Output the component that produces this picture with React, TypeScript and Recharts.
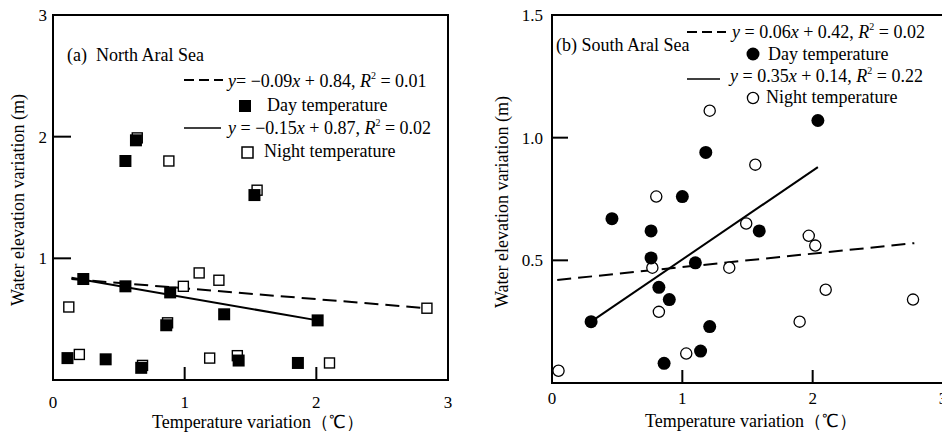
import React from "react";
import { ScatterChart, Scatter, XAxis, YAxis, ReferenceArea } from "recharts";

const FONT = '"Liberation Serif", "Times New Roman", serif';

// ── data ──────────────────────────────────────────────────────────────────

// (a) North Aral Sea: [temperature variation, water elevation variation]
const northDay: [number, number][] = [
    [0.11, 0.18], [0.23, 0.83], [0.4, 0.17], [0.55, 1.8], [0.55, 0.77], [0.63, 1.97], [0.67, 0.1],
    [0.86, 0.45], [0.89, 0.72], [1.3, 0.54], [1.41, 0.16], [1.53, 1.52], [1.86, 0.14], [2.01, 0.49],
];
const northNight: [number, number][] = [
    [0.12, 0.6], [0.2, 0.21], [0.64, 1.99], [0.68, 0.12], [0.87, 0.47], [0.88, 1.8], [0.99, 0.77],
    [1.11, 0.88], [1.19, 0.18], [1.26, 0.82], [1.4, 0.2], [1.55, 1.56], [2.1, 0.14], [2.84, 0.59],
];
const northDashed: [number, number][] = [[0.14, 0.83], [2.84, 0.59]];
const northSolid: [number, number][] = [[0.14, 0.84], [2.01, 0.49]];

// (b) South Aral Sea
const southDay: [number, number][] = [
    [0.3, 0.25], [0.46, 0.67], [0.76, 0.62], [0.76, 0.51], [0.82, 0.39], [0.86, 0.08], [0.9, 0.34],
    [1.0, 0.76], [1.1, 0.49], [1.14, 0.13], [1.18, 0.94], [1.21, 0.23], [1.59, 0.62], [2.04, 1.07],
];
const southNight: [number, number][] = [
    [0.05, 0.05], [0.77, 0.47], [0.8, 0.76], [0.82, 0.29], [1.03, 0.12], [1.21, 1.11], [1.36, 0.47],
    [1.49, 0.65], [1.56, 0.89], [1.9, 0.25], [1.97, 0.6], [2.02, 0.56], [2.1, 0.38], [2.77, 0.34],
];
const southDashed: [number, number][] = [[0.04, 0.42], [2.78, 0.57]];
const southSolid: [number, number][] = [[0.3, 0.25], [2.04, 0.88]];

const xTicks = [0, 1, 2, 3];
const northYTicks = [1, 2, 3];
const southYTicks = [0.5, 1, 1.5];

const pts = (a: [number, number][]) => a.map(([x, y]) => ({ x, y }));

// ── marker shapes ─────────────────────────────────────────────────────────

const FilledSquare = ({ cx, cy }: any) => <rect x={cx - 6} y={cy - 6} width={12} height={12} fill="#000" />;
const HollowSquare = ({ cx, cy }: any) => (
    <rect x={cx - 5} y={cy - 5} width={10} height={10} fill="#fff" stroke="#000" strokeWidth={1.4} />
);
const FilledCircle = ({ cx, cy }: any) => <circle cx={cx} cy={cy} r={6.5} fill="#000" />;
const HollowCircle = ({ cx, cy }: any) => <circle cx={cx} cy={cy} r={5.6} fill="#fff" stroke="#000" strokeWidth={1.3} />;
const NoDot = () => <g />;

const tickStyle = { fontSize: 17, fill: "#000", fontFamily: FONT };
const DASH = "14 7";

const Eq = ({ x, y, pre, rest }: { x: number; y: number; pre: string; rest: string }) => (
    <text x={x} y={y} fontSize={18} fontFamily={FONT}>
        <tspan fontStyle="italic">y</tspan>
        {pre}
        <tspan fontStyle="italic">x</tspan>
        {rest.split("R")[0]}
        <tspan fontStyle="italic">R</tspan>
        <tspan fontSize={10} dy={-8}>2</tspan>
        <tspan dy={8}>{rest.split("R")[1]}</tspan>
    </text>
);

function NorthPanel() {
    return (
        <div style={{ position: "absolute", left: 0, top: 0, width: 470, height: 434 }}>
            <ScatterChart width={470} height={434} margin={{ top: 15, right: 22, left: 0, bottom: 0 }}>
                <XAxis
                    type="number"
                    dataKey="x"
                    domain={[0, 3]}
                    ticks={xTicks}
                    interval={0}
                    height={54}
                    tickSize={-13}
                    tickMargin={29}
                    tick={tickStyle}
                    axisLine={{ stroke: "#000", strokeWidth: 2 }}
                    tickLine={{ stroke: "#000", strokeWidth: 2 }}
                />
                <YAxis
                    type="number"
                    dataKey="y"
                    domain={[0, 3]}
                    ticks={northYTicks}
                    interval={0}
                    width={53}
                    tickSize={-18}
                    tickMargin={24}
                    tick={tickStyle}
                    axisLine={{ stroke: "#000", strokeWidth: 2 }}
                    tickLine={{ stroke: "#000", strokeWidth: 2 }}
                />
                <ReferenceArea x1={0} x2={3} y1={0} y2={3} fill="none" stroke="#000" strokeWidth={2} />
                <Scatter data={pts(northDashed)} shape={NoDot} line={{ stroke: "#000", strokeWidth: 2, strokeDasharray: DASH }} isAnimationActive={false} />
                <Scatter data={pts(northSolid)} shape={NoDot} line={{ stroke: "#000", strokeWidth: 2 }} isAnimationActive={false} />
                <Scatter data={pts(northNight)} shape={HollowSquare} isAnimationActive={false} />
                <Scatter data={pts(northDay)} shape={FilledSquare} isAnimationActive={false} />
            </ScatterChart>
            <svg width={470} height={434} style={{ position: "absolute", left: 0, top: 0, pointerEvents: "none" }}>
                <text x={67} y={61} fontSize={18} fontFamily={FONT} xmlSpace="preserve">(a)  North Aral Sea</text>
                <line x1={184} x2={223} y1={80} y2={80} stroke="#000" strokeWidth={2} strokeDasharray="10 5" />
                <Eq x={228} y={87} pre="= −0.09" rest=" + 0.84, R = 0.01" />
                <rect x={239} y={100} width={12} height={12} fill="#000" />
                <text x={267} y={111} fontSize={18} fontFamily={FONT}>Day temperature</text>
                <line x1={184} x2={221} y1={128} y2={128} stroke="#000" strokeWidth={1.6} />
                <Eq x={228} y={134} pre=" = −0.15" rest=" + 0.87, R = 0.02" />
                <rect x={242} y={147} width={11} height={11} fill="#fff" stroke="#000" strokeWidth={1.5} />
                <text x={264} y={157} fontSize={18} fontFamily={FONT}>Night temperature</text>
                <text transform="translate(24,200) rotate(-90)" textAnchor="middle" fontSize={18} fontFamily={FONT}>
                    Water elevation variation (m)
                </text>
                <text x={258} y={428} textAnchor="middle" fontSize={18} fontFamily={FONT}>
                    Temperature variation（℃）
                </text>
            </svg>
        </div>
    );
}

function SouthPanel() {
    return (
        <div style={{ position: "absolute", left: 470, top: 0, width: 480, height: 434 }}>
            <ScatterChart width={480} height={434} margin={{ top: 15, right: 7, left: 0, bottom: 0 }}>
                <XAxis
                    type="number"
                    dataKey="x"
                    domain={[0, 3]}
                    ticks={xTicks}
                    interval={0}
                    height={51}
                    tickSize={-13}
                    tickMargin={22}
                    tick={tickStyle}
                    axisLine={{ stroke: "#000", strokeWidth: 2 }}
                    tickLine={{ stroke: "#000", strokeWidth: 2 }}
                />
                <YAxis
                    type="number"
                    dataKey="y"
                    domain={[0, 1.5]}
                    ticks={southYTicks}
                    interval={0}
                    width={82}
                    tickSize={-16}
                    tickMargin={25}
                    tickFormatter={(v: number) => v.toFixed(1)}
                    tick={tickStyle}
                    axisLine={{ stroke: "#000", strokeWidth: 2 }}
                    tickLine={{ stroke: "#000", strokeWidth: 2 }}
                />
                <ReferenceArea x1={0} x2={3} y1={0} y2={1.5} fill="none" stroke="#000" strokeWidth={2} />
                <Scatter data={pts(southDashed)} shape={NoDot} line={{ stroke: "#000", strokeWidth: 2, strokeDasharray: DASH }} isAnimationActive={false} />
                <Scatter data={pts(southSolid)} shape={NoDot} line={{ stroke: "#000", strokeWidth: 2 }} isAnimationActive={false} />
                <Scatter data={pts(southNight)} shape={HollowCircle} isAnimationActive={false} />
                <Scatter data={pts(southDay)} shape={FilledCircle} isAnimationActive={false} />
            </ScatterChart>
            <svg width={480} height={434} style={{ position: "absolute", left: 0, top: 0, pointerEvents: "none" }}>
                <text x={86} y={51} fontSize={18} fontFamily={FONT}>(b) South Aral Sea</text>
                <line x1={217} x2={256} y1={32} y2={32} stroke="#000" strokeWidth={2} strokeDasharray="10 5" />
                <Eq x={262} y={38} pre=" = 0.06" rest=" + 0.42, R = 0.02" />
                <circle cx={283} cy={54} r={6.5} fill="#000" />
                <text x={298} y={60} fontSize={18} fontFamily={FONT}>Day temperature</text>
                <line x1={217} x2={250} y1={79} y2={79} stroke="#000" strokeWidth={1.6} />
                <Eq x={260} y={82} pre=" = 0.35" rest=" + 0.14, R = 0.22" />
                <circle cx={283} cy={98} r={5.6} fill="#fff" stroke="#000" strokeWidth={1.3} />
                <text x={296} y={103} fontSize={18} fontFamily={FONT}>Night temperature</text>
                <text transform="translate(38,202) rotate(-90)" textAnchor="middle" fontSize={18} fontFamily={FONT}>
                    Water elevation variation (m)
                </text>
                <text x={281} y={427} textAnchor="middle" fontSize={18} fontFamily={FONT}>
                    Temperature variation（℃）
                </text>
            </svg>
        </div>
    );
}

export default function App() {
    return (
        <div style={{ position: "absolute", left: 0, top: 0, width: 942, height: 434, overflow: "hidden", background: "#fff" }}>
            <NorthPanel />
            <SouthPanel />
        </div>
    );
}
